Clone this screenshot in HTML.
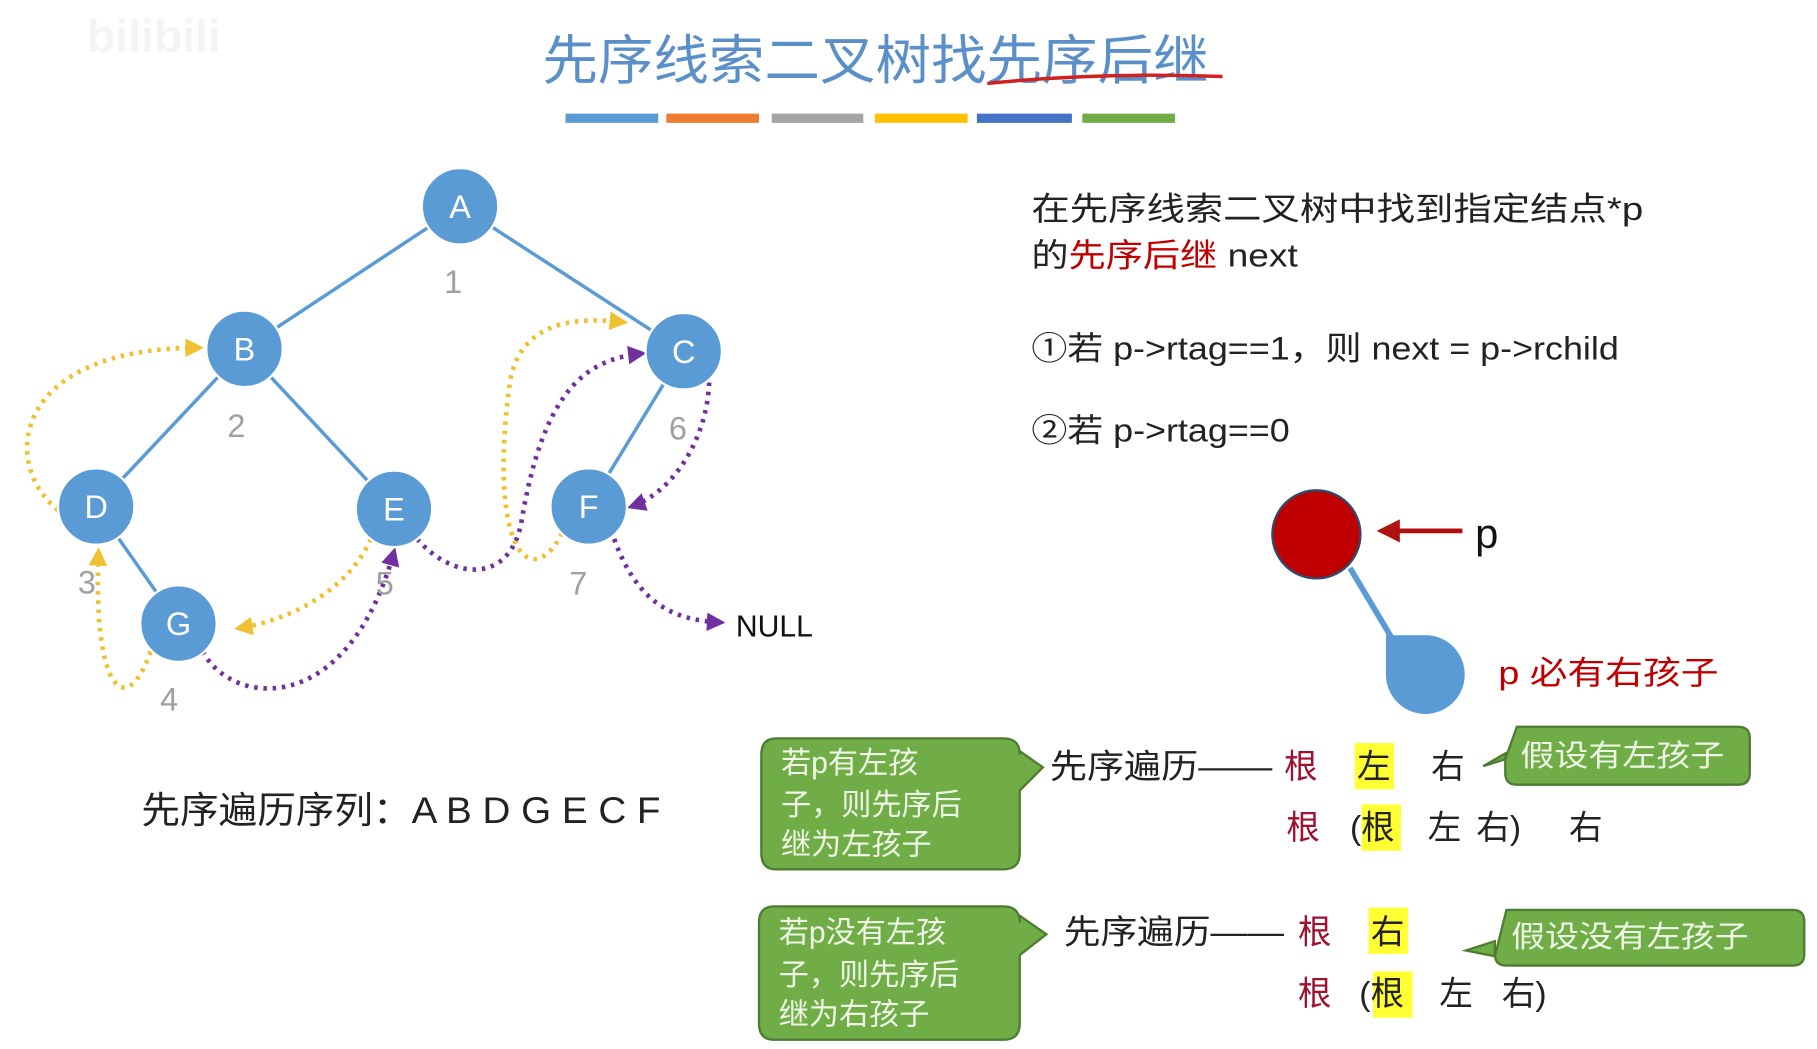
<!DOCTYPE html>
<html><head><meta charset="utf-8"><style>
html,body{margin:0;padding:0;background:#fff;}
svg{display:block;}
text{font-family:"Liberation Sans","Noto Sans CJK SC",sans-serif;}
</style></head><body>
<svg width="1817" height="1049" viewBox="0 0 1568 905" preserveAspectRatio="none" xmlns="http://www.w3.org/2000/svg">
<defs>
<marker id="ay" markerWidth="4" markerHeight="4" refX="3" refY="2" orient="auto" markerUnits="strokeWidth"><path d="M0,0 L4,2 L0,4 z" fill="#f0c030"/></marker>
<marker id="ap" markerWidth="4" markerHeight="4" refX="3" refY="2" orient="auto" markerUnits="strokeWidth"><path d="M0,0 L4,2 L0,4 z" fill="#7030a0"/></marker>
<marker id="ar" markerWidth="5" markerHeight="5" refX="3" refY="2.5" orient="auto" markerUnits="strokeWidth"><path d="M0,0 L5,2.5 L0,5 z" fill="#b01010"/></marker>
</defs>
<rect width="1568" height="905" fill="#fff"/>
<text x="75" y="45" font-size="40" fill="#f4f4f4" font-weight="bold">bilibili</text>
<text x="468" y="68" font-size="46" fill="#5b8fc9" textLength="575" lengthAdjust="spacingAndGlyphs">先序线索二叉树找先序后继</text>
<path d="M852,72 Q950,62 1055,66" stroke="#d02020" stroke-width="3" fill="none"/>
<g stroke-width="8">
<line x1="488" y1="102" x2="568" y2="102" stroke="#5b9bd5"/>
<line x1="575" y1="102" x2="655" y2="102" stroke="#ed7d31"/>
<line x1="666" y1="102" x2="745" y2="102" stroke="#a5a5a5"/>
<line x1="755" y1="102" x2="835" y2="102" stroke="#ffc000"/>
<line x1="843" y1="102" x2="925" y2="102" stroke="#4472c4"/>
<line x1="934" y1="102" x2="1014" y2="102" stroke="#70ad47"/>
</g>
<g stroke="#5b9bd5" stroke-width="3">
<line x1="397" y1="178" x2="211" y2="301"/><line x1="397" y1="178" x2="590" y2="303"/>
<line x1="211" y1="301" x2="83" y2="437"/><line x1="211" y1="301" x2="340" y2="439"/>
<line x1="590" y1="303" x2="508" y2="437"/><line x1="83" y1="437" x2="154" y2="538"/>
</g>
<g fill="none" stroke="#f0c030" stroke-width="4" stroke-dasharray="3,5" marker-end="url(#ay)">
<path d="M50,440 C0,400 10,300 172,300"/>
<path d="M130,562 C110,620 80,600 85,476"/>
<path d="M320,465 C300,510 250,535 206,542"/>
<path d="M485,460 C460,510 420,480 440,330 C450,270 510,275 538,278"/>
</g>
<g fill="none" stroke="#7030a0" stroke-width="4" stroke-dasharray="3,5" marker-end="url(#ap)">
<path d="M175,562 C200,610 300,620 340,476"/>
<path d="M360,465 C390,500 440,505 450,450 C470,330 510,310 554,305"/>
<path d="M612,330 C610,380 580,425 545,437"/>
<path d="M530,465 C550,520 580,535 622,537"/>
</g>
<g fill="#5b9bd5" stroke="#fff" stroke-width="2">
<circle cx="397" cy="178" r="33"/><circle cx="211" cy="301" r="33"/><circle cx="590" cy="303" r="33"/>
<circle cx="83" cy="437" r="33"/><circle cx="340" cy="439" r="33"/><circle cx="508" cy="437" r="33"/><circle cx="154" cy="538" r="33"/>
</g>
<g fill="#fff" font-size="28" text-anchor="middle">
<text x="397" y="188">A</text><text x="211" y="311">B</text><text x="590" y="313">C</text>
<text x="83" y="447">D</text><text x="340" y="449">E</text><text x="508" y="447">F</text><text x="154" y="548">G</text>
</g>
<g fill="#a0a0a0" font-size="28" text-anchor="middle">
<text x="391" y="253">1</text><text x="204" y="377">2</text><text x="75" y="512">3</text><text x="146" y="613">4</text>
<text x="332" y="513">5</text><text x="585" y="379">6</text><text x="499" y="513">7</text>
</g>
<text x="635" y="549" font-size="26" fill="#111">NULL</text>
<text x="122" y="710" font-size="32" fill="#222" textLength="448" lengthAdjust="spacingAndGlyphs">先序遍历序列：A B D G E C F</text>
<g font-size="28" fill="#222">
<text x="890" y="190" textLength="528" lengthAdjust="spacingAndGlyphs">在先序线索二叉树中找到指定结点*p</text>
<text x="890" y="230" textLength="230" lengthAdjust="spacingAndGlyphs">的<tspan fill="#c00000">先序后继</tspan> next</text>
<text x="890" y="310" textLength="507" lengthAdjust="spacingAndGlyphs">①若 p-&gt;rtag==1，则 next = p-&gt;rchild</text>
<text x="890" y="381" textLength="223" lengthAdjust="spacingAndGlyphs">②若 p-&gt;rtag==0</text>
</g>
<line x1="1165" y1="490" x2="1202" y2="552" stroke="#5b9bd5" stroke-width="5"/>
<circle cx="1136" cy="461" r="38" fill="#c00000" stroke="#2e4a70" stroke-width="2"/>
<line x1="1262" y1="458" x2="1196" y2="458" stroke="#b01010" stroke-width="4" marker-end="url(#ar)"/>
<text x="1273" y="473" font-size="36" fill="#111">p</text>
<path d="M1196,548 L1232,548 A34,34 0 1 1 1196,582 Z" fill="#5b9bd5"/>
<text x="1293" y="590" font-size="28" fill="#c00000" textLength="190" lengthAdjust="spacingAndGlyphs">p 必有右孩子</text>
<g fill="#70ad47" stroke="#4e7c32" stroke-width="2">
<path d="M670,637 H866 Q880,637 880,651 V648 L900,662 L880,682 V736 Q880,750 866,750 H670 Q657,750 657,736 V651 Q657,637 670,637 Z"/>
<path d="M668,782 H866 Q880,782 880,796 V790 L903,806 L880,824 V883 Q880,897 866,897 H668 Q655,897 655,883 V796 Q655,782 668,782 Z"/>
<path d="M1309,627 H1500 Q1510,627 1510,637 V667 Q1510,677 1500,677 H1309 Q1299,677 1299,667 V650 L1280,661 L1299,655 Z"/>
<path d="M1300,785 H1547 Q1557,785 1557,795 V823 Q1557,833 1547,833 H1300 Q1290,833 1290,823 V812 L1265,820 L1290,825 Z"/>
</g>
<g fill="#eef7e6" font-size="26">
<text x="674" y="667">若p有左孩</text><text x="674" y="703">子，则先序后</text><text x="674" y="737">继为左孩子</text>
<text x="672" y="813">若p没有左孩</text><text x="672" y="850">子，则先序后</text><text x="672" y="884">继为右孩子</text>
<text x="1312" y="661" textLength="176" lengthAdjust="spacingAndGlyphs">假设有左孩子</text><text x="1304" y="817" textLength="205" lengthAdjust="spacingAndGlyphs">假设没有左孩子</text>
</g>
<rect x="1169" y="641" width="34" height="40" fill="#ffff33"/>
<rect x="1175" y="694" width="34" height="40" fill="#ffff33"/>
<rect x="1181" y="783" width="34" height="40" fill="#ffff33"/>
<rect x="1185" y="838" width="34" height="40" fill="#ffff33"/>
<g font-size="29" fill="#222">
<text x="906" y="671" textLength="192" lengthAdjust="spacingAndGlyphs">先序遍历——</text>
<text x="1108" y="671" fill="#a01030">根</text><text x="1171" y="671">左</text><text x="1235" y="671">右</text>
<text x="1110" y="724" fill="#a01030">根</text><text x="1165" y="724">(根</text><text x="1232" y="724">左</text><text x="1274" y="724">右)</text><text x="1354" y="724">右</text>
<text x="918" y="814" textLength="190" lengthAdjust="spacingAndGlyphs">先序遍历——</text>
<text x="1120" y="814" fill="#a01030">根</text><text x="1183" y="814">右</text>
<text x="1120" y="867" fill="#a01030">根</text><text x="1173" y="867">(根</text><text x="1242" y="867">左</text><text x="1296" y="867">右)</text>
</g>
</svg>
</body></html>
